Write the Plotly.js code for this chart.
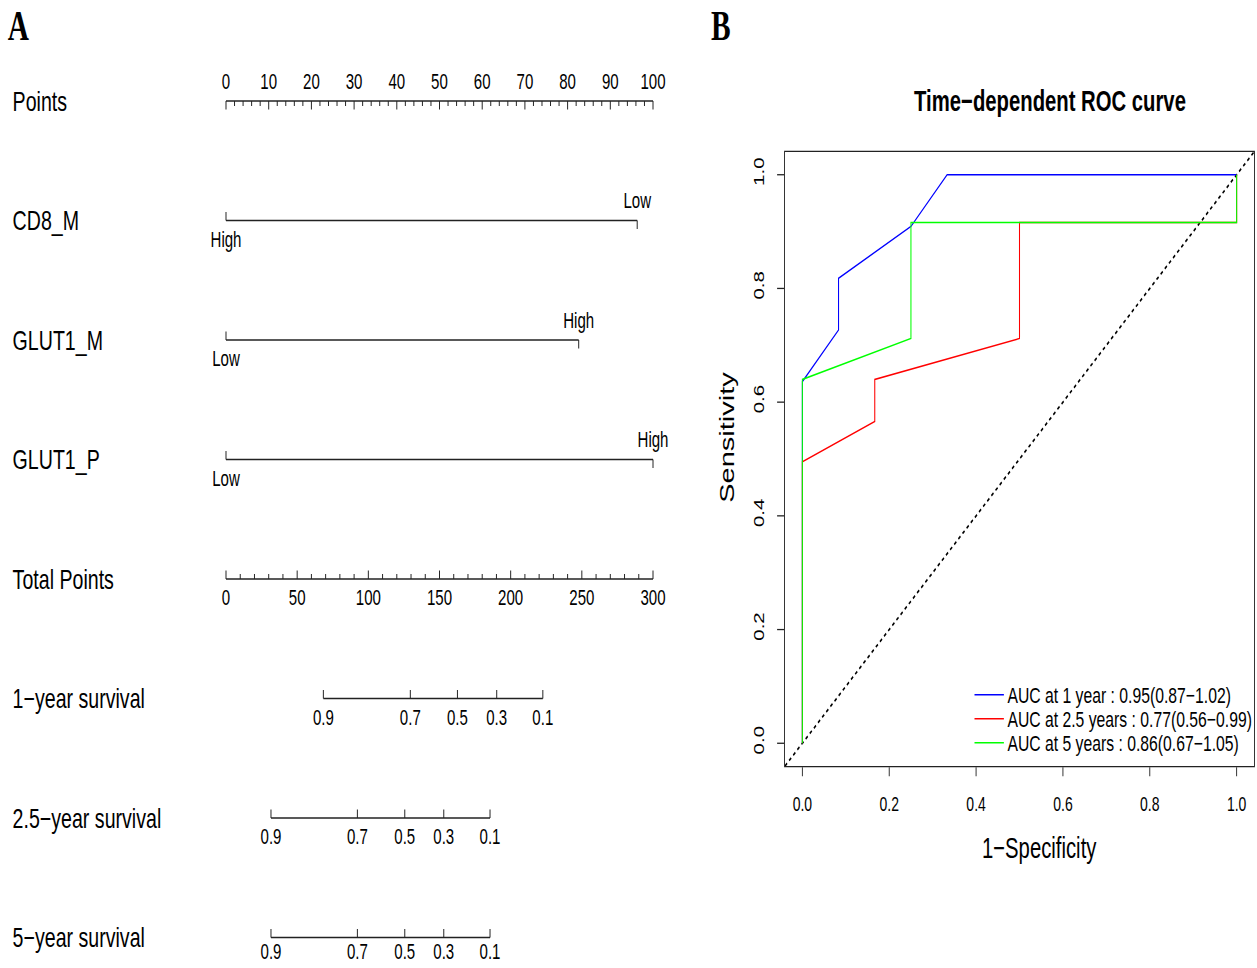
<!DOCTYPE html>
<html><head><meta charset="utf-8">
<script src="https://cdn.plot.ly/plotly-3.0.1.min.js"></script>
<style>
html,body{margin:0;padding:0;overflow:hidden;background:#fff;width:1257px;height:968px}
#chart{width:1796px;height:968px;transform:scaleX(0.69989);transform-origin:0 0}
</style></head><body><div id="chart"></div>
<script>
// ================= DATA =================
// Panel B: time-dependent ROC curves (false positive rate / sensitivity)
const rocFpr1y   = [0, 0, 0.0833, 0.0833, 0.25, 0.3333, 1];
const rocTpr1y   = [0, 0.636, 0.727, 0.818, 0.909, 1, 1];
const rocFpr25y  = [0, 0, 0.1667, 0.1667, 0.5, 0.5, 1, 1];
const rocTpr25y  = [0, 0.495, 0.566, 0.640, 0.712, 0.916, 0.916, 1];
const rocFpr5y   = [0, 0, 0.25, 0.25, 1, 1];
const rocTpr5y   = [0, 0.640, 0.712, 0.916, 0.916, 1];
const rocNames   = ["AUC at 1 year : 0.95(0.87\u22121.02)",
                    "AUC at 2.5 years : 0.77(0.56\u22120.99)",
                    "AUC at 5 years : 0.86(0.67\u22121.05)"];
const rocColors  = ["#0000FF", "#FF0000", "#00FF00"];
const rocTickVals = [0, 0.2, 0.4, 0.6, 0.8, 1.0];
const rocTickText = ["0.0", "0.2", "0.4", "0.6", "0.8", "1.0"];
const refLine    = [-0.04, 1.04];

// Panel A: nomogram
const rowLabels = ["Points", "CD8_M", "GLUT1_M", "GLUT1_P", "Total Points",
                   "1\u2212year survival", "2.5\u2212year survival", "5\u2212year survival"];
const pointsMajor = [0, 10, 20, 30, 40, 50, 60, 70, 80, 90, 100];
const pointsMinorStep = 2;
const totalMajor = [0, 50, 100, 150, 200, 250, 300];
const totalMinorStep = 10;
const pointsMax = 100, totalMax = 300;
const cd8mLevels = ["High", "Low"];     const cd8mPoints = [0, 96.3];
const glut1mLevels = ["Low", "High"];   const glut1mPoints = [0, 82.6];
const glut1pLevels = ["Low", "High"];   const glut1pPoints = [0, 100];
const survProbs = ["0.9", "0.7", "0.5", "0.3", "0.1"];
const surv1yTotal  = [68.4, 129.5, 162.6, 190.2, 222.6];
const surv25yTotal = [31.6, 92.3, 125.6, 153.0, 185.5];
const surv5yTotal  = [31.6, 92.3, 125.6, 153.0, 185.5];

// ================= LAYOUT GEOMETRY =================
const REFW = 1257, REFH = 968;
const FONT = "Liberation Sans, Arial, Helvetica, sans-serif";
const rowTopPx = 101, rowStepPx = 119.5;
const majLen = 8.5 / rowStepPx, minLen = 5 / rowStepPx;
const labOffAbove = 17.5 / rowStepPx, labOffBelow = 21 / rowStepPx, labOffLast = 16 / rowStepPx;
const p0px = 226, p100px = 653;            // where 0 and 100 points sit
const x2dom = [0.1, 0.6];
const pxPerPt = (p100px - p0px) / pointsMax;
const x2range = [(x2dom[0]*REFW - p0px)/pxPerPt, (x2dom[1]*REFW - p0px)/pxPerPt];
const y2range = [(REFH - rowTopPx)/rowStepPx, -rowTopPx/rowStepPx];
const lineCol = "#222";
const toPts = tp => tp * pointsMax / totalMax;

const traces = [];
function addLine(xs, ys) {
  traces.push({x: xs, y: ys, xaxis: "x2", yaxis: "y2", mode: "lines", type: "scatter",
    line: {color: lineCol, width: 1.4}, showlegend: false, hoverinfo: "skip"});
}
function addTicks(xs, row, dy) {
  const X = [], Y = [];
  xs.forEach(v => { X.push(v, v, null); Y.push(row, row + dy, null); });
  addLine(X, Y);
}
function addLabels(xs, ys, texts) {
  traces.push({x: xs, y: ys, xaxis: "x2", yaxis: "y2", mode: "text", type: "scatter",
    text: texts, textposition: "middle center", cliponaxis: false,
    textfont: {family: FONT, size: 21.5, color: "#000"}, showlegend: false, hoverinfo: "skip"});
}
function minorOf(max, step, major) {
  const out = [];
  for (let v = 0; v <= max + 1e-9; v += step) if (!major.includes(v)) out.push(v);
  return out;
}

// Row 0: Points
addLine([0, pointsMax], [0, 0]);
addTicks(pointsMajor, 0, majLen);
addTicks(minorOf(pointsMax, pointsMinorStep, pointsMajor), 0, minLen);
addLabels(pointsMajor, pointsMajor.map(() => 0 - labOffAbove), pointsMajor.map(String));

// Rows 1-3: categorical predictors
[[cd8mLevels, cd8mPoints], [glut1mLevels, glut1mPoints], [glut1pLevels, glut1pPoints]]
.forEach(([lev, pts], k) => {
  const row = k + 1;
  addLine([Math.min(...pts), Math.max(...pts)], [row, row]);
  pts.forEach((p, i) => {
    const below = i % 2 === 0;
    addTicks([p], row, below ? -majLen : majLen);
    addLabels([p], [below ? row + labOffBelow : row - labOffAbove], [lev[i]]);
  });
});

// Row 4: Total points
const totMinor = minorOf(totalMax, totalMinorStep, totalMajor);
addLine([0, toPts(totalMax)], [4, 4]);
addTicks(totalMajor.map(toPts), 4, -majLen);
addTicks(totMinor.map(toPts), 4, -minLen);
addLabels(totalMajor.map(toPts), totalMajor.map(() => 4 + labOffBelow), totalMajor.map(String));

// Rows 5-7: survival scales
[surv1yTotal, surv25yTotal, surv5yTotal].forEach((tot, k) => {
  const row = 5 + k;
  const xs = tot.map(toPts);
  const off = row === 7 ? labOffLast : labOffBelow;
  addLine([Math.min(...xs), Math.max(...xs)], [row, row]);
  addTicks(xs, row, -majLen);
  addLabels(xs, xs.map(() => row + off), survProbs);
});

// ROC panel
traces.push({x: refLine, y: refLine, mode: "lines", type: "scatter", showlegend: false,
  line: {color: "#000", width: 2, dash: "4px,4px"}, hoverinfo: "skip"});
[[rocFpr1y, rocTpr1y], [rocFpr25y, rocTpr25y], [rocFpr5y, rocTpr5y]].forEach(([fx, ty], i) => {
  traces.push({x: fx, y: ty, mode: "lines", type: "scatter", name: rocNames[i],
    legend: i === 0 ? "legend" : "legend" + (i + 1),
    line: {color: rocColors[i], width: 1.5}, hoverinfo: "skip"});
});

// annotations
const ann = [];
rowLabels.forEach((t, k) => ann.push({text: t, xref: "paper", yref: "y2", x: 11/REFW, y: k,
  xanchor: "left", yanchor: "middle", showarrow: false, font: {family: FONT, size: 28, color: "#000"}}));
ann.push({text: "<b>A</b>", xref: "paper", yref: "paper", x: 18.5/REFW, y: 1 - 26/REFH,
  xanchor: "center", yanchor: "middle", showarrow: false,
  font: {family: "Liberation Serif, Times New Roman, serif", size: 42, color: "#000"}});
ann.push({text: "<b>B</b>", xref: "paper", yref: "paper", x: 721/REFW, y: 1 - 26/REFH,
  xanchor: "center", yanchor: "middle", showarrow: false,
  font: {family: "Liberation Serif, Times New Roman, serif", size: 42, color: "#000"}});
ann.push({text: "Sensitivity", xref: "paper", yref: "paper", x: 727/REFW, y: 1 - 437/REFH,
  xanchor: "center", yanchor: "middle", textangle: -90, showarrow: false,
  font: {family: FONT, size: 29, color: "#000"}});
ann.push({text: "1\u2212Specificity", xref: "paper", yref: "paper", x: 1039/REFW, y: 1 - 848/REFH,
  xanchor: "center", yanchor: "middle", showarrow: false,
  font: {family: FONT, size: 29, color: "#000"}});

const legBase = {xanchor: "left", yanchor: "middle", bgcolor: "rgba(0,0,0,0)", borderwidth: 0,
  font: {family: FONT, size: 22.5, color: "#000"}, itemwidth: 42};
const legX = (975 - 4) / REFW;

const layout = {
  width: 1796, height: 968, margin: {l: 0, r: 0, t: 0, b: 0},
  paper_bgcolor: "#fff", plot_bgcolor: "#fff",
  font: {family: FONT, color: "#000"},
  title: {text: "<b>Time\u2212dependent ROC curve</b>", x: 1050/REFW, xanchor: "center",
    y: 1 - 101/REFH, yanchor: "middle", font: {family: FONT, size: 29, color: "#000"}},
  xaxis: {domain: [785/REFW, 1254/REFW], range: [-0.04, 1.04], tickvals: rocTickVals, ticktext: rocTickText,
    ticks: "outside", ticklen: 9, tickwidth: 1.3, tickcolor: lineCol, showline: true, mirror: true,
    linecolor: lineCol, linewidth: 1.3, showgrid: false, zeroline: false,
    tickfont: {family: FONT, size: 20, color: "#000"}, ticklabelstandoff: 11, anchor: "y"},
  yaxis: {domain: [1 - 766/REFH, 1 - 152/REFH], range: [-0.04, 1.04], tickvals: rocTickVals, ticktext: rocTickText,
    tickangle: -90, ticks: "outside", ticklen: 10, tickwidth: 1.3, tickcolor: lineCol, showline: true, mirror: true,
    linecolor: lineCol, linewidth: 1.3, showgrid: false, zeroline: false,
    tickfont: {family: FONT, size: 20.5, color: "#000"}, ticklabelstandoff: 10, anchor: "x"},
  xaxis2: {domain: x2dom, range: x2range, visible: false, anchor: "y2"},
  yaxis2: {domain: [0, 1], range: y2range, visible: false, anchor: "x2"},
  legend:  Object.assign({x: legX, y: 1 - 695/REFH}, legBase),
  legend2: Object.assign({x: legX, y: 1 - 719/REFH}, legBase),
  legend3: Object.assign({x: legX, y: 1 - 743/REFH}, legBase),
  annotations: ann,
  showlegend: true
};

Plotly.newPlot("chart", traces, layout, {staticPlot: true, displayModeBar: false});
</script></body></html>
